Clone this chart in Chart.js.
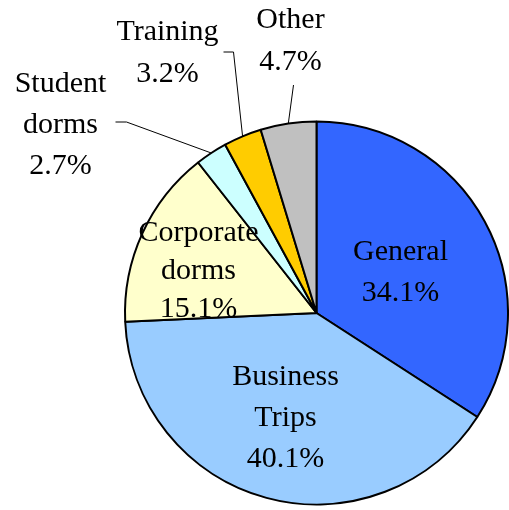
<!DOCTYPE html>
<html>
<head>
<meta charset="utf-8">
<script src="https://cdn.jsdelivr.net/npm/chart.js@4"></script>
<style>
    body { margin: 0; background: #fff; }
    canvas { display: block; }
</style>
</head>
<body>
<canvas id="chart" width="509" height="510"></canvas>
<script>
const categories = ['General', 'Business Trips', 'Corporate dorms', 'Student dorms', 'Training', 'Other'];
const shares = [34.1, 40.1, 15.1, 2.7, 3.2, 4.7];
const sliceColors = ['#3366FF', '#99CCFF', '#FFFFCC', '#CCFFFF', '#FFCC00', '#C0C0C0'];

// where each label sits, relative to the pie centre (first baseline, text centre x)
const labelLayout = [
    { dx: 84, dy: -53, lh: 41 },
    { dx: -31, dy: 72, lh: 41 },
    { dx: -118, dy: -72, lh: 38 },
    { dx: -256, dy: -221, lh: 41, leader: [[-190, -191], [-201, -191]] },
    { dx: -149, dy: -273, lh: 42, leader: [[-83, -261], [-93, -261]] },
    { dx: -26, dy: -285, lh: 42, leader: [[-23, -228]] }
];

const sliceLabels = {
    id: 'sliceLabels',
    afterDatasetsDraw(chart) {
        const ctx = chart.ctx;
        const arcs = chart.getDatasetMeta(0).data;
        ctx.save();
        ctx.font = '30px "Liberation Serif", "Times New Roman", serif';
        ctx.fillStyle = '#000';
        ctx.textAlign = 'center';
        ctx.textBaseline = 'alphabetic';
        arcs.forEach((arc, i) => {
            const lay = labelLayout[i];
            const cx = arc.x, cy = arc.y;
            const lines = categories[i].split(' ').concat(shares[i].toFixed(1) + '%');
            lines.forEach((txt, j) => {
                ctx.fillText(txt, cx + lay.dx, cy + lay.dy + j * lay.lh);
            });
            if (lay.leader) {
                const mid = (arc.startAngle + arc.endAngle) / 2;
                ctx.beginPath();
                ctx.strokeStyle = '#000';
                ctx.lineWidth = 1;
                ctx.moveTo(cx + Math.cos(mid) * arc.outerRadius, cy + Math.sin(mid) * arc.outerRadius);
                lay.leader.forEach(p => ctx.lineTo(cx + p[0], cy + p[1]));
                ctx.stroke();
            }
        });
        ctx.restore();
    }
};

new Chart(document.getElementById('chart'), {
    type: 'pie',
    data: {
        labels: categories,
        datasets: [{
            data: shares,
            backgroundColor: sliceColors,
            borderColor: '#000',
            borderWidth: 2
        }]
    },
    options: {
        responsive: false,
        animation: false,
        layout: { padding: { left: 124, top: 119, right: -3, bottom: 3 } },
        plugins: {
            legend: { display: false },
            tooltip: { enabled: false }
        }
    },
    plugins: [sliceLabels]
});
</script>
</body>
</html>
